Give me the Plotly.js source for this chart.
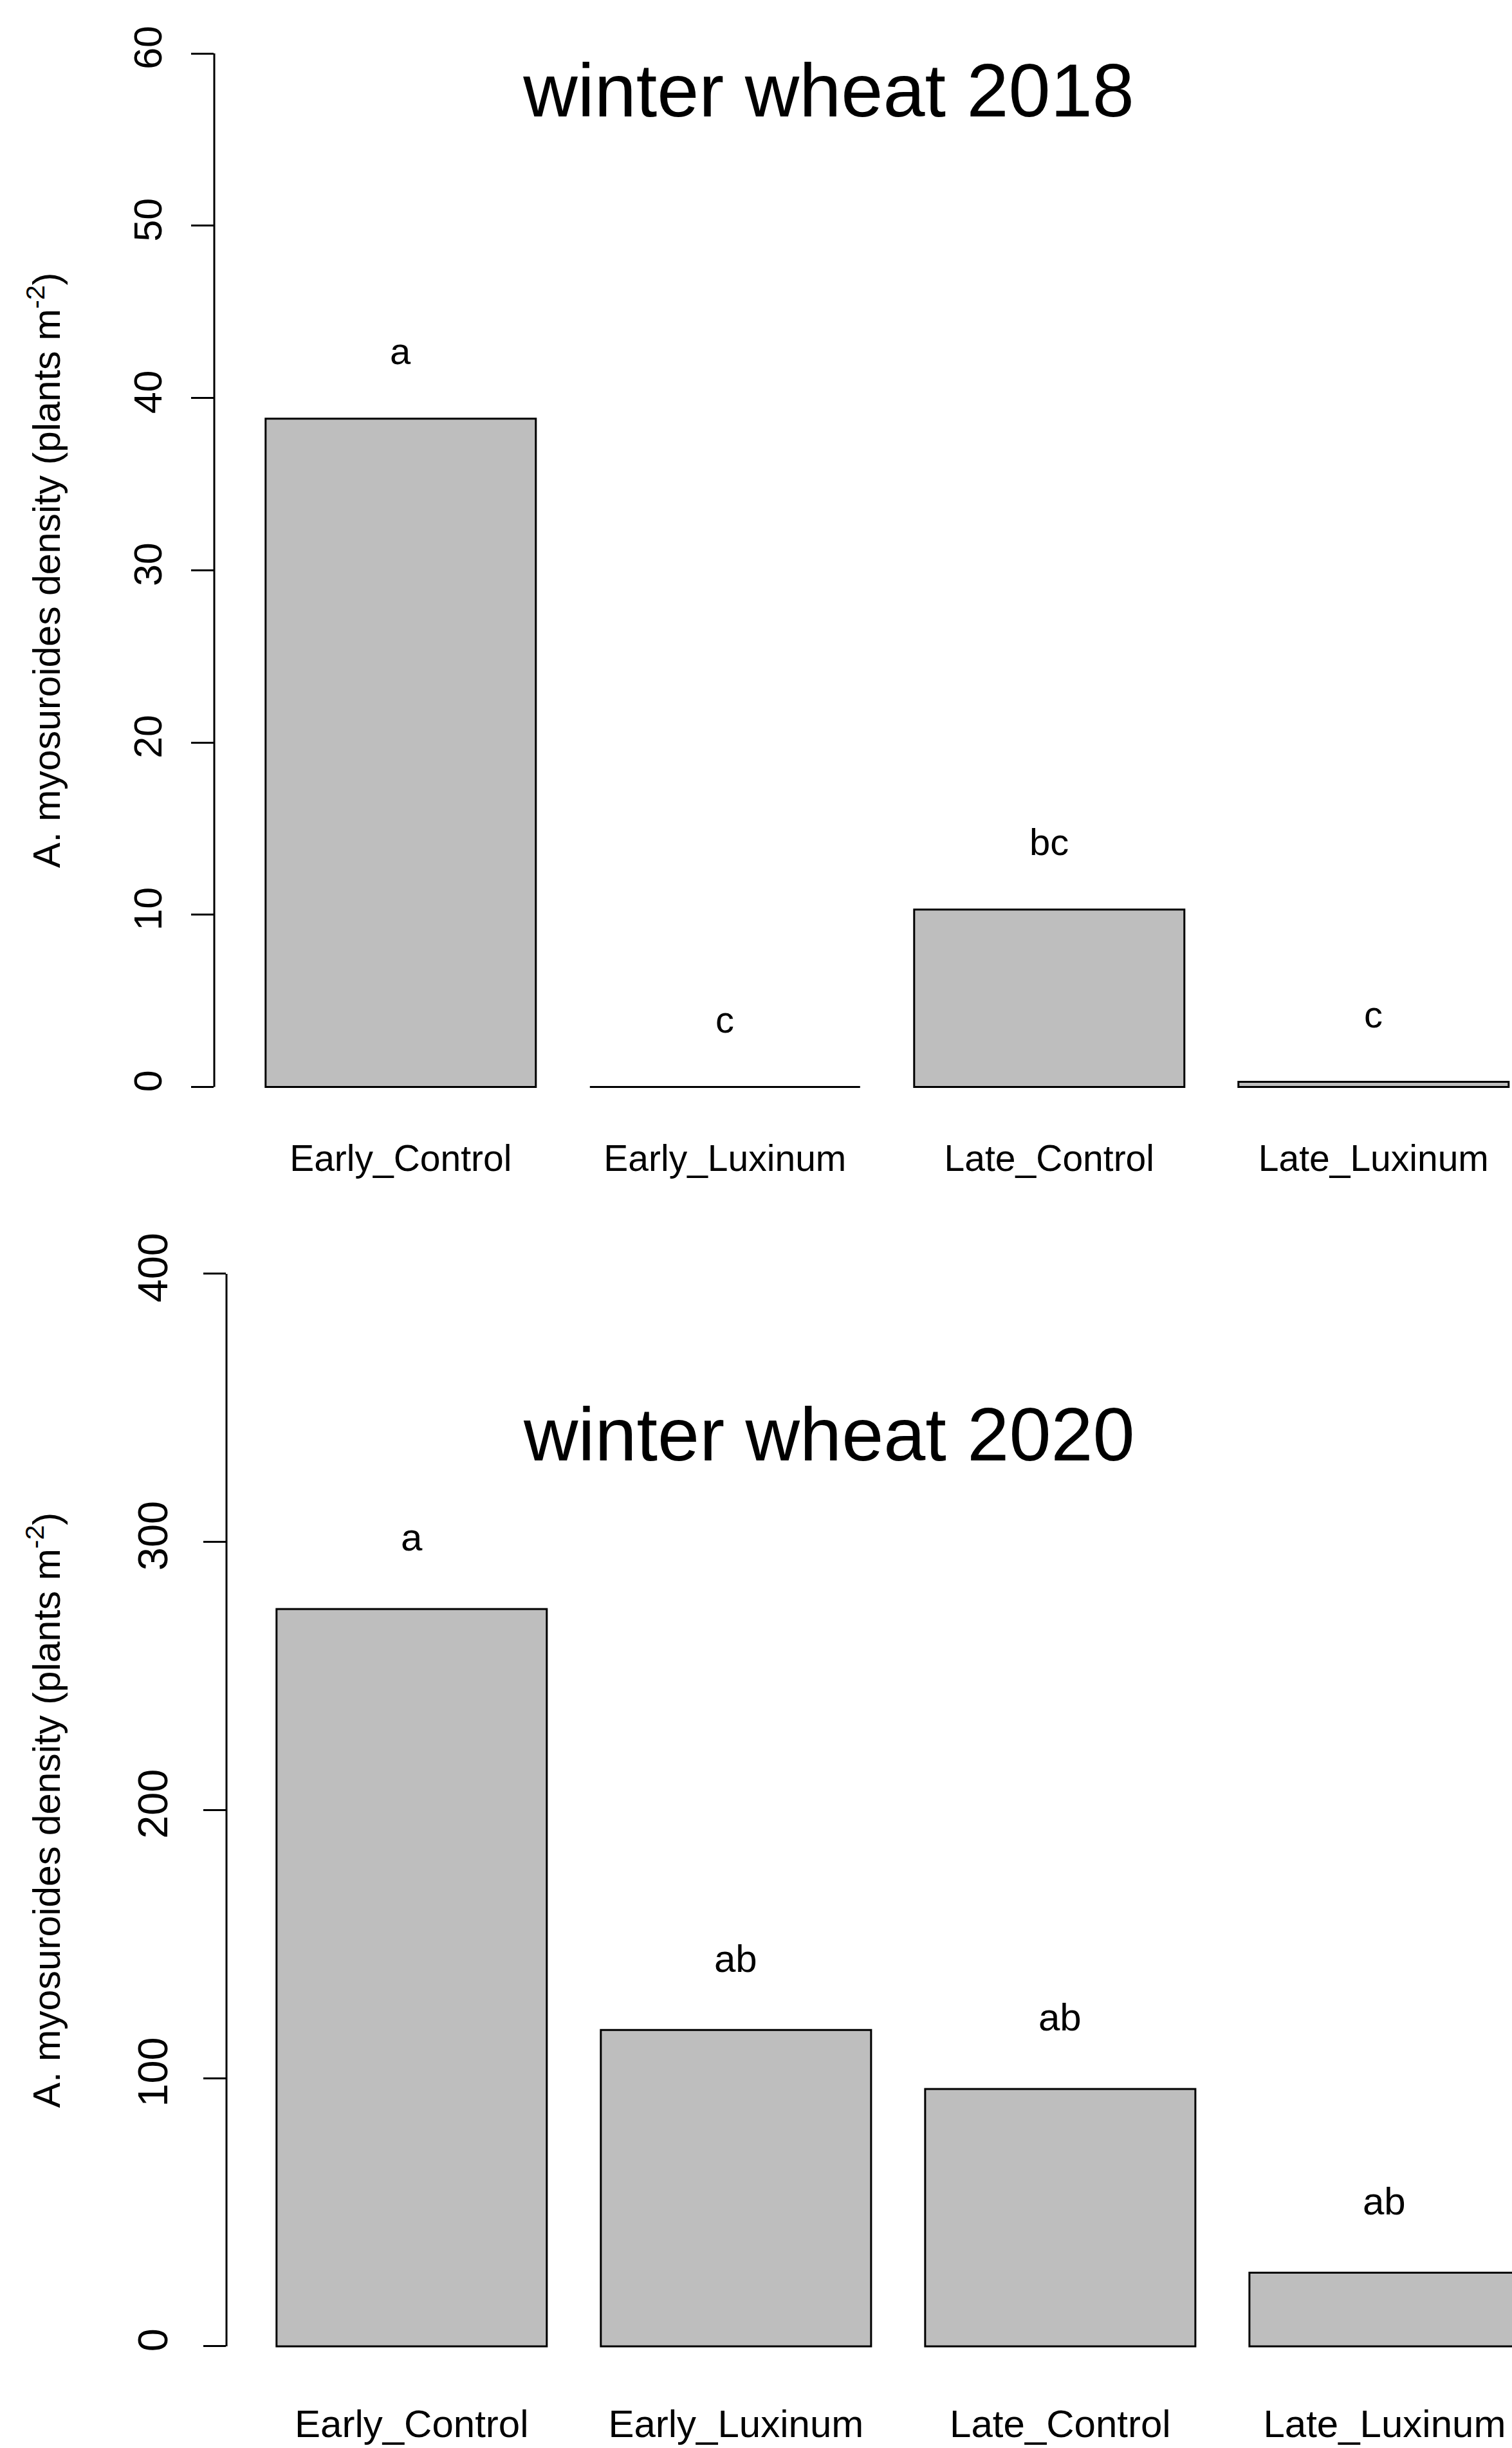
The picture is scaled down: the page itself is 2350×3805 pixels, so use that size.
<!DOCTYPE html>
<html>
<head>
<meta charset="utf-8">
<script src="https://cdn.plot.ly/plotly-3.0.1.min.js"></script>
<style>html,body{margin:0;padding:0;background:#fff;}#chart{width:2350px;height:3805px;}</style>
</head>
<body>
<div id="chart"></div>
<script>
// ---- data ----
const categories = ["Early_Control", "Early_Luxinum", "Late_Control", "Late_Luxinum"];
const density2018 = [38.8, 0, 10.3, 0.3];
const letters2018 = ["a", "c", "bc", "c"];
const density2020 = [275, 118, 96, 27.5];
const letters2020 = ["a", "ab", "ab", "ab"];
const ticks2018 = [0, 10, 20, 30, 40, 50, 60];
const ticks2020 = [0, 100, 200, 300, 400];
const title2018 = "winter wheat 2018";
const title2020 = "winter wheat 2020";
const yTitle = "A. myosuroides density (plants m<sup>-2</sup>)";

// ---- style ----
const FONT = "Liberation Sans, Arial, Helvetica, sans-serif";
const barStyle = {color: "#BEBEBE", line: {color: "#000000", width: 3}};

const traces = [
  {type: "bar", x: categories, y: density2018, xaxis: "x", yaxis: "y",
   marker: barStyle, hoverinfo: "x+y", showlegend: false},
  {type: "bar", x: categories, y: density2020, xaxis: "x2", yaxis: "y2",
   marker: barStyle, hoverinfo: "x+y", showlegend: false}
];

const annotations = [];
categories.forEach((c, i) => {
  annotations.push({x: c, y: density2018[i], xref: "x", yref: "y", text: letters2018[i],
    showarrow: false, yanchor: "middle", yshift: 105, font: {family: FONT, size: 58, color: "#000"}});
  annotations.push({x: c, y: density2020[i], xref: "x2", yref: "y2", text: letters2020[i],
    showarrow: false, yanchor: "middle", yshift: 111, font: {family: FONT, size: 60, color: "#000"}});
});
annotations.push({text: title2020, xref: "paper", yref: "paper", x: 1288/2350, y: (3805-2229)/3805,
  xanchor: "center", yanchor: "middle", showarrow: false, font: {family: FONT, size: 117, color: "#000"}});

const shapes = [
  {type: "line", xref: "x domain", yref: "y", x0: 0, x1: 0, y0: 0, y1: 60, line: {color: "#000", width: 3}},
  {type: "line", xref: "x2 domain", yref: "y2", x0: 0, x1: 0, y0: 0, y1: 400, line: {color: "#000", width: 3}}
];

const xCommon = {type: "category", showline: false, ticks: "", showgrid: false, zeroline: false,
  fixedrange: true, automargin: false};
const yCommon = {showline: false, ticks: "outside", ticklen: 35, tickwidth: 3, tickcolor: "#000",
  showgrid: false, zeroline: false, tickangle: -90, tickmode: "array", automargin: false, fixedrange: true};

const layout = {
  width: 2350, height: 3805,
  margin: {l: 0, r: 0, t: 0, b: 0, pad: 0},
  paper_bgcolor: "#ffffff", plot_bgcolor: "#ffffff",
  font: {family: FONT, color: "#000"},
  bargap: 1/6,
  showlegend: false,
  title: {text: title2018, x: 1288/2350, xanchor: "center", xref: "paper", yref: "paper",
    y: (3805-140)/3805, yanchor: "middle", font: {family: FONT, size: 117, color: "#000"}},
  xaxis: Object.assign({}, xCommon, {domain: [333/2350, 1], range: [-0.575, 3.427], anchor: "y",
    tickfont: {family: FONT, size: 57, color: "#000"}, ticklabelstandoff: 8}),
  yaxis: Object.assign({}, yCommon, {domain: [0.53908, 0.99507], range: [-2.4, 62.4], anchor: "x",
    tickvals: ticks2018, ticktext: ticks2018.map(String), ticklabelstandoff: 22,
    tickfont: {family: FONT, size: 61, color: "#000"},
    title: {text: yTitle, standoff: 82, font: {family: FONT, size: 59, color: "#000"}}}),
  xaxis2: Object.assign({}, xCommon, {domain: [352/2350, 1], range: [-0.571, 3.393], anchor: "y2",
    tickfont: {family: FONT, size: 60, color: "#000"}, ticklabelstandoff: 13}),
  yaxis2: Object.assign({}, yCommon, {domain: [0.02400, 0.49716], range: [-16, 416], anchor: "x2",
    tickvals: ticks2020, ticktext: ticks2020.map(String), ticklabelstandoff: 30,
    tickfont: {family: FONT, size: 65, color: "#000"},
    title: {text: yTitle, standoff: 88, font: {family: FONT, size: 59, color: "#000"}}}),
  annotations: annotations,
  shapes: shapes
};

Plotly.newPlot("chart", traces, layout, {displayModeBar: false, staticPlot: true});
</script>
</body>
</html>
